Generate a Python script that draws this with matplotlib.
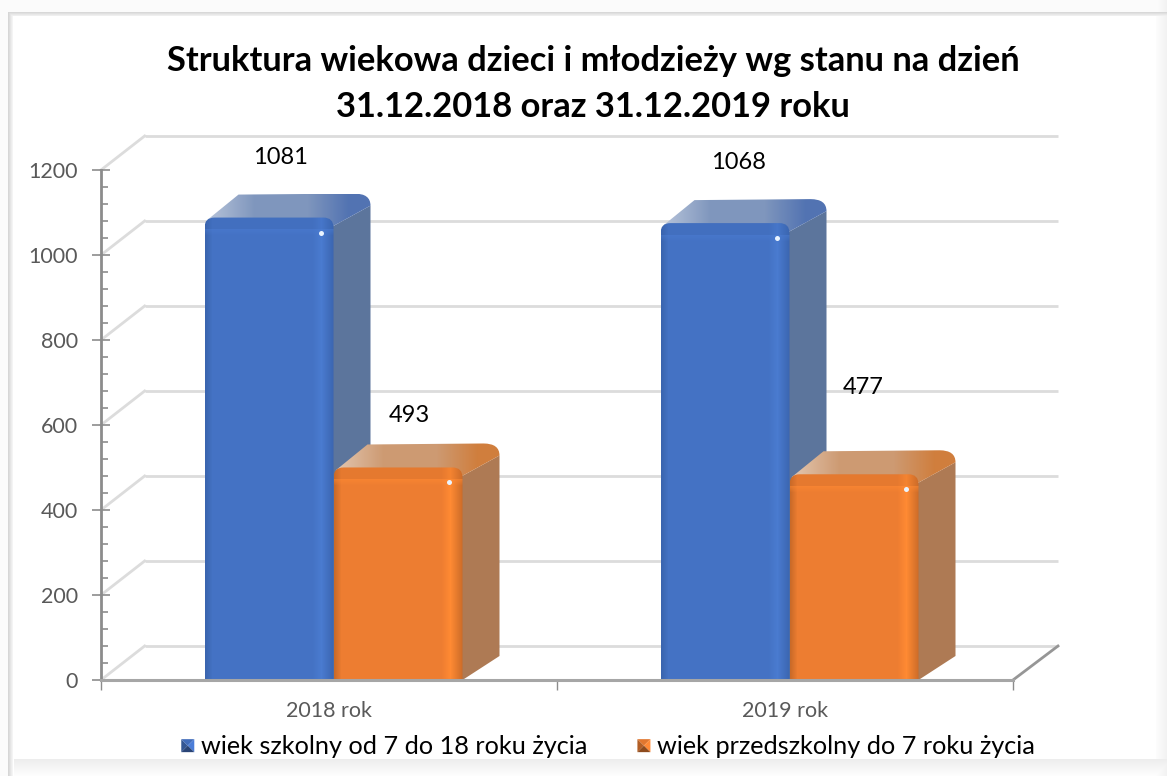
import numpy as np
import matplotlib
matplotlib.use("Agg")
import matplotlib.pyplot as plt
from matplotlib.path import Path
from matplotlib.patches import PathPatch, Polygon, Patch
from matplotlib.legend_handler import HandlerBase
from matplotlib.ticker import MultipleLocator

categories = ["2018 rok", "2019 rok"]
series_names = ["wiek szkolny od 7 do 18 roku życia", "wiek przedszkolny do 7 roku życia"]
school_age = [1081, 1068]
preschool_age = [493, 477]
title_text = "Struktura wiekowa dzieci i młodzieży wg stanu na dzień\n31.12.2018 oraz 31.12.2019 roku"
y_ticks = [0, 200, 400, 600, 800, 1000, 1200]

W, H = 1167, 776
plt.rcParams["font.family"] = ["Lato", "DejaVu Sans"]
fig = plt.figure(figsize=(W / 100, H / 100), dpi=100, facecolor="white")

# ---------- card background ----------
bg = fig.add_axes([0, 0, 1, 1], zorder=0)
bg.set_axis_off()
xx = np.arange(W)[None, :]
yy = np.arange(H)[:, None]
shade = np.ones((H, W))
shade = np.minimum(shade, np.where(xx < 8, 0.985, 1.0))
shade = np.minimum(shade, np.where(yy < 12, 0.985, 1.0))
shade = np.minimum(shade, np.where((xx >= 8) & (xx < 13) & (yy >= 12), 0.84 + 0.03 * (xx - 8), 1.0))
shade = np.minimum(shade, np.where((yy >= 12) & (yy < 16) & (xx >= 8), 0.85 + 0.03 * (yy - 12), 1.0))
shade = np.minimum(shade, np.where((yy >= 759) & (xx > 13), 0.93 + 0.004 * (yy - 759), 1.0))
shade = np.minimum(shade, np.where(xx >= 1156, 0.99 - 0.004 * (xx - 1156), 1.0))
img = np.repeat(shade[:, :, None], 3, axis=2)
bg.imshow(img, extent=(0, W, H, 0), aspect="auto", interpolation="bilinear")

# ---------- plot axes: the plotting frame is the chart's front plane ----------
L, R, T, B = 101, 1013, 170, 680
ax = fig.add_axes([L / W, (H - B) / H, (R - L) / W, (B - T) / H], zorder=1)
ax.patch.set_alpha(0)
ax.set_xlim(0, 2)
ax.set_ylim(0, 1200)
ux = (R - L) / 2      # px per x-unit
uy = (B - T) / 1200   # px per y-unit

wall_dx, wall_dy = 45 / ux, 34 / uy
depth_dx, depth_dy = 37 / ux, 24 / uy
bar_w = 129 / ux
group_shift = 4.5 / ux
lift = 3 / uy

# back wall gridlines and left-side diagonals
for v in y_ticks:
    ax.plot([wall_dx * 0.97, 2 + wall_dx], [v + wall_dy, v + wall_dy], color="#DCDCDC", lw=2.0,
            clip_on=False, zorder=1, solid_capstyle="butt")
    ax.plot([0, wall_dx * 0.97], [v, v + wall_dy], color="#DCDCDC", lw=2.0, clip_on=False, zorder=1)
ax.plot([2, 2 + wall_dx], [0, wall_dy], color="#969696", lw=2.0, clip_on=False, zorder=2)


def shaded_image(poly_patch, extent, arr, z):
    ax.add_patch(poly_patch)
    im = ax.imshow(arr, extent=extent, aspect="auto", origin="upper", zorder=z,
                   interpolation="nearest", clip_on=True)
    im.set_clip_path(poly_patch)
    return im


def hexrgb(c):
    return np.array(matplotlib.colors.to_rgb(c))


def draw_bar(x0, v, front, front_dark, front_light, side, top_mid, top_dark, z):
    x1 = x0 + bar_w
    top = v + lift
    rx, ry = 10 / ux, 10 / uy
    bx, by = 16 / ux, 12 / uy

    # side face, tucked under the front face
    verts = [(x1 - 3 / ux, 0), (x1, 0), (x1 + depth_dx, depth_dy), (x1 + depth_dx, top + depth_dy - by),
             (x1 - 3 / ux, top - ry), (x1 - 3 / ux, 0)]
    codes = [Path.MOVETO, Path.LINETO, Path.LINETO, Path.LINETO, Path.LINETO, Path.CLOSEPOLY]
    ax.add_patch(PathPatch(Path(verts, codes), fc=side, ec="none", zorder=z, clip_on=False))

    # top face with rounded back corners and a fade on both sides
    verts = [(x0 + rx * 0.2, top - ry * 0.3), (x0 + depth_dx - 3 / ux, top + depth_dy - 1 / uy),
             (x1 + depth_dx - bx, top + depth_dy), (x1 + depth_dx, top + depth_dy),
             (x1 + depth_dx, top + depth_dy - by), (x1 - 3 / ux, top - ry), (x0 + rx * 0.2, top - ry * 0.3)]
    codes = [Path.MOVETO, Path.LINETO, Path.LINETO, Path.CURVE3, Path.CURVE3, Path.LINETO, Path.CLOSEPOLY]
    tp = PathPatch(Path(verts, codes), fc="none", ec="none", zorder=z, clip_on=False)
    n = 166
    c0, c1, c2 = hexrgb(top_mid) * 0.55 + 0.45, hexrgb(top_mid), hexrgb(top_dark)
    row = np.zeros((1, n, 3))
    for i, ti in enumerate(np.linspace(0, 1, n)):
        if ti < 0.3:
            row[0, i] = c0 + (c1 - c0) * (ti / 0.3)
        elif ti < 0.62:
            row[0, i] = c1
        else:
            row[0, i] = c1 + (c2 - c1) * min((ti - 0.62) / 0.25, 1)
    shaded_image(tp, (x0, x1 + depth_dx, top - ry, top + depth_dy), row, z + 0.1)

    # front face with rounded top corners
    verts = [(x0, 0), (x0, top - ry), (x0, top), (x0 + rx, top), (x1 - rx, top), (x1, top),
             (x1, top - ry), (x1, 0), (x0, 0)]
    codes = [Path.MOVETO, Path.LINETO, Path.CURVE3, Path.CURVE3, Path.LINETO, Path.CURVE3, Path.CURVE3,
             Path.LINETO, Path.CLOSEPOLY]
    fp = PathPatch(Path(verts, codes), fc="none", ec="none", zorder=z + 0.2, clip_on=False)
    nx, ny = 129, int(top * uy)
    base, dark, light = hexrgb(front), hexrgb(front_dark), hexrgb(front_light)
    arr = np.tile(base, (ny, nx, 1))
    for i in range(nx):
        if i < 7:
            arr[:, i] = dark + (base - dark) * i / 7
        elif nx - 22 <= i < nx - 13:
            arr[:, i] = base + (light - base) * (i - (nx - 22)) / 9
        elif i >= nx - 13:
            arr[:, i] = light + (dark - light) * (i - (nx - 13)) / 13
    for j in range(min(18, ny)):
        if j < 12:
            arr[j] = arr[j] * 0.8 + dark * 0.2
        else:
            f = (18 - j) / 6
            arr[j] = arr[j] * (1 - f * 0.5) + light * f * 0.5
    shaded_image(fp, (x0, x1, 0, top), arr, z + 0.3)

    # specular highlight
    ax.plot([x1 - 13 / ux], [top - 15 / uy], marker="o", ms=3.6, mfc="#EAF4FF", mec="none", zorder=z + 0.5,
            clip_on=False)


centers = [0.5, 1.5]
for c, a, b in zip(centers, school_age, preschool_age):
    xc = c + group_shift
    draw_bar(xc - bar_w, a, "#4472C4", "#3A64AE", "#4A7BD0", "#5C759C", "#7F96BD", "#5273B2", 3)
    draw_bar(xc, b, "#ED7D31", "#C96A28", "#FF8A33", "#AE7A54", "#CD9A72", "#D07E3D", 4)
ax.set_xlim(0, 2)
ax.set_ylim(0, 1200)

# data labels (hand-placed in the reference)
label_offsets = [((11.5, 63), (11, 55)), ((13.5, 64), (9.5, 90))]
for c, a, b, (oa, ob) in zip(centers, school_age, preschool_age, label_offsets):
    xc = c + group_shift
    ax.annotate(str(a), (xc - bar_w / 2, a), xytext=oa, textcoords="offset pixels", ha="center", va="center",
                fontsize=17, color="black", annotation_clip=False, zorder=8)
    ax.annotate(str(b), (xc + bar_w / 2, b), xytext=ob, textcoords="offset pixels", ha="center", va="center",
                fontsize=17, color="black", annotation_clip=False, zorder=8)

# axes
for s in ("top", "right"):
    ax.spines[s].set_visible(False)
ax.spines["left"].set_color("#8C8C8C")
ax.spines["left"].set_linewidth(2.0)
ax.spines["bottom"].set_color("#A6A6A6")
ax.spines["bottom"].set_linewidth(2.2)
for s in ax.spines.values():
    s.set_zorder(7)
ax.set_yticks(y_ticks)
ax.yaxis.set_minor_locator(MultipleLocator(40))
ax.tick_params(axis="y", which="major", direction="inout", length=13, width=1.2, color="#8C8C8C",
               labelsize=15.5, labelcolor="#595959", pad=10)
ax.tick_params(axis="y", which="minor", direction="in", length=5, width=1.2, color="#8C8C8C")
ax.set_xticks([0, 1, 2])
ax.set_xticklabels([])
ax.tick_params(axis="x", which="major", direction="out", length=7, width=1.0, color="#8C8C8C")
for c, lab in zip(centers, categories):
    ax.annotate(lab, (c, 0), xytext=(0, -31), textcoords="offset pixels", ha="center", va="center",
                fontsize=15.5, color="#595959", annotation_clip=False)

# title
fig.text(593 / W, 1 - 84 / H, title_text, ha="center", va="center", fontsize=24.8, fontweight="bold",
         color="black", linespacing=1.55, zorder=9)


# legend with bevelled swatches
class BevelHandler(HandlerBase):
    def create_artists(self, legend, orig, xd, yd, w, h, fontsize, trans):
        s = 13 * 0.72
        x0, y0 = -xd + w - s, -yd + (h - s) / 2
        cx, cy = x0 + s / 2, y0 + s / 2
        col = hexrgb(orig.get_facecolor()[:3])
        pts = [(x0, y0), (x0, y0 + s), (x0 + s, y0 + s), (x0 + s, y0)]
        fac = [0.75, 0.95, 1.1, 0.6]
        out = []
        for i in range(4):
            c = np.clip(col * fac[i], 0, 1)
            out.append(Polygon([pts[i], pts[(i + 1) % 4], (cx, cy)], closed=True, fc=c, ec="none", transform=trans))
        return out


handles = [Patch(fc="#4472C4"), Patch(fc="#ED7D31")]
leg = fig.legend(handles, series_names, ncol=2, loc="center left", bbox_to_anchor=(169 / W, 1 - 747 / H),
                 frameon=False, fontsize=18.2, handler_map={Patch: BevelHandler()}, handlelength=1.0,
                 handletextpad=0.26, columnspacing=1.5, labelcolor="black", borderpad=0, borderaxespad=0)
leg.set_zorder(9)

fig.savefig("out.png", dpi=100, facecolor="white")
